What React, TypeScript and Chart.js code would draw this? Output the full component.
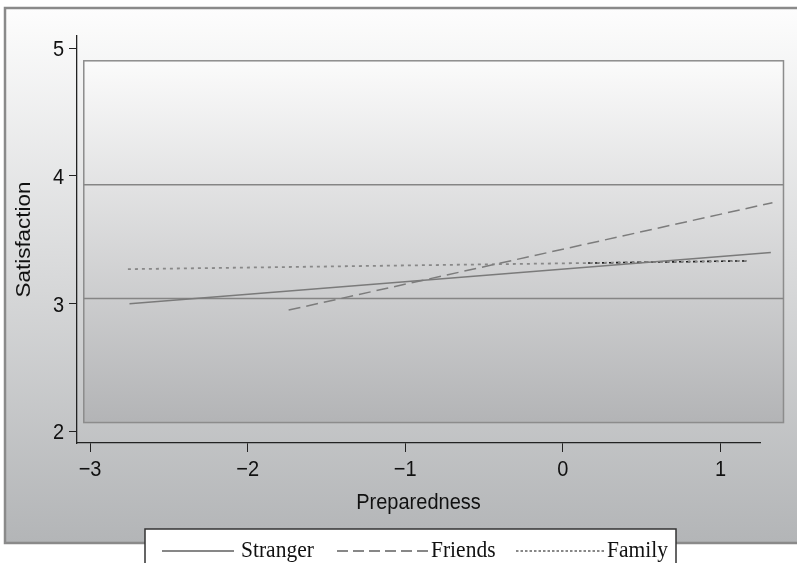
import React, { useEffect, useRef } from 'react';
import { Chart, registerables } from 'chart.js';

Chart.register(...registerables);

// ---- data ----
const seriesNames = ['Stranger', 'Friends', 'Family'];
const strangerX = [-2.75, 1.32];
const strangerY = [3.0, 3.4];
const friendsX = [-1.74, 1.33];
const friendsY = [2.95, 3.79];
const familyX = [-2.76, 1.18];
const familyY = [3.27, 3.335];
const familyOverlayX = [0.16, 1.18];
const familyOverlayY = [3.318, 3.335];
const xTicks = [-3, -2, -1, 0, 1];
const yTicks = [2, 3, 4, 5];
const xTitle = 'Preparedness';
const yTitle = 'Satisfaction';
const refLinesY = [3.04, 3.93];
const bandX = [-3.04, 1.4];
const bandY = [2.07, 4.9];
const xRange = [-3.083, 1.251];
const yRange = [1.91, 5.094];

const pts = (xs: number[], ys: number[]) => xs.map((x, i) => ({ x, y: ys[i] }));

const fmt = (v: number) => (v < 0 ? '\u2212' + Math.abs(v) : String(v));

const SANS = '"Liberation Sans", Arial, sans-serif';
const SERIF = '"Liberation Serif", "Times New Roman", serif';
const STRETCH = 1.12;

function stretchedText(
  ctx: CanvasRenderingContext2D,
  text: string,
  x: number,
  y: number,
  font: string,
  align: CanvasTextAlign,
  baseline: CanvasTextBaseline,
  rotate = 0,
) {
  ctx.save();
  ctx.translate(x, y);
  ctx.scale(1, STRETCH);
  if (rotate) ctx.rotate(rotate);
  ctx.font = font;
  ctx.textAlign = align;
  ctx.textBaseline = baseline;
  ctx.fillText(text, 0, 0);
  ctx.restore();
}

const decorPlugin = {
  id: 'decor',
  beforeDraw(chart: any) {
    const ctx = chart.ctx as CanvasRenderingContext2D;
    ctx.save();
    ctx.fillStyle = '#ffffff';
    ctx.fillRect(0, 0, chart.width, chart.height);
    const g = ctx.createLinearGradient(0, 8, 0, 543);
    g.addColorStop(0, '#fdfdfd');
    g.addColorStop(1, '#b3b5b7');
    ctx.fillStyle = g;
    ctx.fillRect(5, 8, 800, 535);
    ctx.strokeStyle = '#8a8a8a';
    ctx.lineWidth = 2.5;
    ctx.strokeRect(5, 8, 800, 535);
    ctx.restore();
  },
  beforeDatasetsDraw(chart: any) {
    const ctx = chart.ctx as CanvasRenderingContext2D;
    const { x, y } = chart.scales;
    const l = x.getPixelForValue(bandX[0]);
    const r = x.getPixelForValue(bandX[1]);
    const t = y.getPixelForValue(bandY[1]);
    const b = y.getPixelForValue(bandY[0]);
    ctx.save();
    const g = ctx.createLinearGradient(0, t, 0, b);
    g.addColorStop(0, '#fbfbfb');
    g.addColorStop(1, '#b3b4b6');
    ctx.fillStyle = g;
    ctx.fillRect(l, t, r - l, b - t);
    ctx.strokeStyle = '#8c8c8c';
    ctx.lineWidth = 1.5;
    ctx.strokeRect(l, t, r - l, b - t);
    ctx.strokeStyle = '#858585';
    for (const v of refLinesY) {
      const py = y.getPixelForValue(v);
      ctx.beginPath();
      ctx.moveTo(l, py);
      ctx.lineTo(r, py);
      ctx.stroke();
    }
    ctx.restore();
  },
  afterDraw(chart: any) {
    const ctx = chart.ctx as CanvasRenderingContext2D;
    const { x, y } = chart.scales;
    const chartArea = chart.chartArea;
    ctx.save();
    ctx.fillStyle = '#111111';
    const tickFont = '20px ' + SANS;
    for (const v of xTicks) {
      stretchedText(ctx, fmt(v), x.getPixelForValue(v), chartArea.bottom + 33, tickFont, 'center', 'alphabetic');
    }
    for (const v of yTicks) {
      stretchedText(ctx, fmt(v), chartArea.left - 13, y.getPixelForValue(v) + 8, tickFont, 'right', 'alphabetic');
    }
    stretchedText(ctx, xTitle, (chartArea.left + chartArea.right) / 2, 503, tickFont, 'center', 'middle');
    stretchedText(ctx, yTitle, 24, (chartArea.top + chartArea.bottom) / 2, tickFont, 'center', 'middle', -Math.PI / 2);

    // legend
    ctx.fillStyle = '#ffffff';
    ctx.fillRect(145, 529, 531, 50);
    ctx.strokeStyle = '#333333';
    ctx.lineWidth = 1.5;
    ctx.strokeRect(145, 529, 531, 50);
    const layout = [
      { dash: [] as number[], x0: 162, x1: 234, tx: 241 },
      { dash: [11, 5], x0: 337, x1: 428, tx: 431 },
      { dash: [2.5, 2], x0: 516, x1: 605, tx: 607 },
    ];
    const ly = 551;
    layout.forEach((it, i) => {
      ctx.strokeStyle = '#111111';
      ctx.lineWidth = 1.2;
      ctx.setLineDash(it.dash);
      ctx.beginPath();
      ctx.moveTo(it.x0, ly);
      ctx.lineTo(it.x1, ly);
      ctx.stroke();
      ctx.setLineDash([]);
      ctx.fillStyle = '#111111';
      stretchedText(ctx, seriesNames[i], it.tx, 557, '21.5px ' + SERIF, 'left', 'alphabetic');
    });
    ctx.restore();
  },
};

export default function App() {
  const ref = useRef<HTMLCanvasElement>(null);
  useEffect(() => {
    const chart = new Chart(ref.current as HTMLCanvasElement, {
      type: 'line',
      data: {
        datasets: [
          {
            label: seriesNames[0],
            data: pts(strangerX, strangerY),
            borderColor: '#7a7a7a',
            borderWidth: 1.5,
            pointRadius: 0,
            clip: false as any,
          },
          {
            label: seriesNames[1],
            data: pts(friendsX, friendsY),
            borderColor: '#7c7c7c',
            borderWidth: 1.5,
            borderDash: [12, 6],
            pointRadius: 0,
            clip: false as any,
          },
          {
            label: seriesNames[2],
            data: pts(familyX, familyY),
            borderColor: '#888888',
            borderWidth: 1.8,
            borderDash: [3, 4],
            pointRadius: 0,
            clip: false as any,
          },
          {
            label: seriesNames[2] + ' (overlay)',
            data: pts(familyOverlayX, familyOverlayY),
            borderColor: '#111111',
            borderWidth: 1.6,
            borderDash: [4, 3],
            pointRadius: 0,
            clip: false as any,
          },
        ],
      },
      options: {
        responsive: false,
        animation: false,
        devicePixelRatio: 1,
        parsing: false as any,
        layout: { padding: { top: 36, right: 37, left: 0, bottom: 0 } },
        plugins: { legend: { display: false }, tooltip: { enabled: false } },
        scales: {
          x: {
            type: 'linear',
            min: xRange[0],
            max: xRange[1],
            afterBuildTicks: (s: any) => {
              s.ticks = xTicks.map((v) => ({ value: v }));
            },
            afterFit: (s: any) => {
              s.height = 120;
            },
            grid: { drawOnChartArea: false, drawTicks: true, tickLength: 9, color: '#222222', lineWidth: 1 },
            border: { display: true, color: '#222222', width: 1.3 },
            ticks: { display: false, autoSkip: false },
            title: { display: false, text: xTitle },
          },
          y: {
            type: 'linear',
            min: yRange[0],
            max: yRange[1],
            afterBuildTicks: (s: any) => {
              s.ticks = yTicks.map((v) => ({ value: v }));
            },
            afterFit: (s: any) => {
              s.width = 77;
            },
            grid: { drawOnChartArea: false, drawTicks: true, tickLength: 8, color: '#222222', lineWidth: 1 },
            border: { display: true, color: '#222222', width: 1.3 },
            ticks: { display: false, autoSkip: false },
            title: { display: false, text: yTitle },
          },
        },
      },
      plugins: [decorPlugin],
    } as any);
    return () => chart.destroy();
  }, []);
  return (
    <div style={{ position: 'absolute', left: 0, top: 0, width: 797, height: 563 }}>
      <canvas ref={ref} width={797} height={563} style={{ display: 'block', width: 797, height: 563 }} />
    </div>
  );
}
